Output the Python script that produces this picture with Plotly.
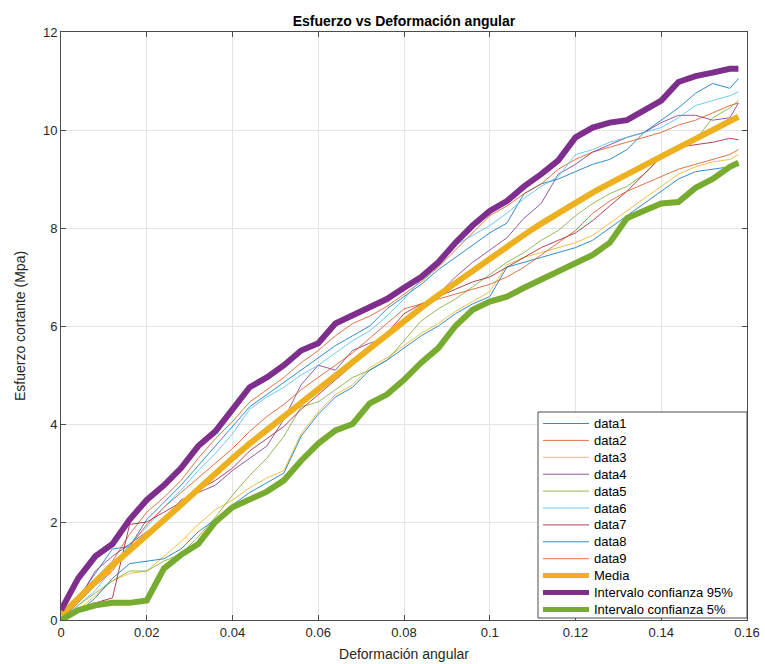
import plotly.graph_objects as go

# Deformación angular (common sampling grid for every curve)
deformacion = [0.000, 0.004, 0.008, 0.012, 0.016, 0.020, 0.024, 0.028, 0.032, 0.036,
               0.040, 0.044, 0.048, 0.052, 0.056, 0.060, 0.064, 0.068, 0.072, 0.076,
               0.080, 0.084, 0.088, 0.092, 0.096, 0.100, 0.104, 0.108, 0.112, 0.116,
               0.120, 0.124, 0.128, 0.132, 0.136, 0.140, 0.144, 0.148, 0.152, 0.156,
               0.158]

# Esfuerzo cortante (MPa) for each specimen
data1 = [0.00, 0.45, 0.95, 1.45, 1.50, 2.05, 2.40, 2.75, 3.15, 3.55,
         3.95, 4.35, 4.60, 4.85, 5.10, 5.35, 5.60, 5.80, 6.00, 6.35,
         6.60, 6.85, 7.15, 7.40, 7.65, 7.90, 8.10, 8.70, 8.90, 9.00,
         9.15, 9.30, 9.40, 9.60, 9.95, 10.20, 10.45, 10.75, 10.95, 10.85,
         11.05]
data2 = [0.00, 0.50, 0.85, 1.20, 1.75, 2.20, 2.50, 2.85, 3.30, 3.70,
         4.05, 4.45, 4.70, 4.95, 5.25, 5.50, 5.80, 6.05, 6.20, 6.40,
         6.65, 6.90, 7.20, 7.55, 7.90, 8.25, 8.45, 8.70, 8.90, 9.20,
         9.40, 9.55, 9.65, 9.75, 9.85, 9.95, 10.10, 10.20, 10.35, 10.50,
         10.55]
data3 = [0.00, 0.20, 0.50, 0.80, 0.95, 1.00, 1.30, 1.60, 1.95, 2.25,
         2.45, 2.70, 2.90, 3.05, 3.80, 4.25, 4.60, 4.80, 5.15, 5.35,
         5.60, 5.85, 6.05, 6.30, 6.50, 6.70, 7.25, 7.40, 7.50, 7.60,
         7.70, 7.85, 8.10, 8.35, 8.60, 8.85, 9.10, 9.25, 9.35, 9.40,
         9.50]
data4 = [0.00, 0.40, 1.00, 1.30, 1.55, 1.80, 2.05, 2.45, 2.60, 2.75,
         3.05, 3.30, 3.55, 4.10, 4.80, 5.20, 5.10, 5.50, 5.65, 5.75,
         6.10, 6.40, 6.65, 7.00, 7.30, 7.55, 7.80, 8.20, 8.50, 9.10,
         9.30, 9.55, 9.70, 9.85, 9.95, 10.15, 10.30, 10.30, 10.20, 10.25,
         10.55]
data5 = [0.00, 0.30, 0.55, 0.80, 1.00, 1.00, 1.20, 1.35, 1.70, 2.10,
         2.55, 2.95, 3.30, 3.75, 4.35, 4.45, 4.70, 4.95, 5.10, 5.30,
         5.70, 6.10, 6.35, 6.55, 6.80, 7.05, 7.30, 7.50, 7.75, 7.95,
         8.25, 8.50, 8.70, 8.85, 9.10, 9.45, 9.65, 9.80, 10.25, 10.45,
         10.60]
data6 = [0.00, 0.30, 0.60, 1.05, 1.55, 1.90, 2.30, 2.65, 3.05, 3.40,
         3.80, 4.30, 4.55, 4.75, 5.00, 5.20, 5.45, 5.70, 5.90, 6.20,
         6.55, 6.95, 7.25, 7.65, 7.85, 8.05, 8.30, 8.60, 8.85, 9.05,
         9.50, 9.60, 9.75, 9.85, 9.95, 10.05, 10.25, 10.50, 10.60, 10.70,
         10.78]
data7 = [0.00, 0.20, 0.35, 0.45, 1.95, 2.00, 2.20, 2.40, 2.65, 2.85,
         3.10, 3.45, 3.70, 3.95, 4.30, 4.60, 4.90, 5.20, 5.50, 5.85,
         6.25, 6.45, 6.60, 6.75, 6.90, 7.00, 7.20, 7.40, 7.60, 7.75,
         7.90, 8.15, 8.45, 8.75, 9.10, 9.45, 9.65, 9.70, 9.75, 9.83,
         9.80]
data8 = [0.00, 0.15, 0.45, 0.85, 1.15, 1.20, 1.25, 1.45, 1.80, 2.05,
         2.35, 2.60, 2.80, 3.00, 3.75, 4.20, 4.55, 4.75, 5.10, 5.30,
         5.55, 5.80, 6.00, 6.25, 6.45, 6.60, 7.20, 7.30, 7.40, 7.50,
         7.60, 7.75, 8.00, 8.25, 8.50, 8.75, 9.00, 9.15, 9.20, 9.25,
         9.33]
data9 = [0.00, 0.35, 0.70, 1.00, 1.50, 1.95, 2.30, 2.60, 2.90, 3.20,
         3.50, 3.85, 4.15, 4.40, 4.70, 4.95, 5.20, 5.45, 5.75, 6.05,
         6.35, 6.45, 6.55, 6.65, 6.75, 6.85, 7.00, 7.20, 7.45, 7.70,
         7.95, 8.30, 8.55, 8.75, 8.90, 9.05, 9.20, 9.30, 9.40, 9.50,
         9.60]

media = [0.10, 0.45, 0.80, 1.12, 1.42, 1.72, 2.03, 2.35, 2.67, 3.00,
         3.30, 3.60, 3.88, 4.15, 4.43, 4.70, 4.98, 5.26, 5.54, 5.82,
         6.10, 6.37, 6.63, 6.88, 7.13, 7.38, 7.62, 7.86, 8.09, 8.31,
         8.52, 8.72, 8.91, 9.10, 9.28, 9.46, 9.64, 9.82, 9.99, 10.17,
         10.27]
ic95 = [0.20, 0.85, 1.30, 1.55, 2.05, 2.45, 2.75, 3.10, 3.55, 3.85,
        4.30, 4.75, 4.95, 5.20, 5.50, 5.65, 6.05, 6.22, 6.37, 6.55,
        6.78, 7.00, 7.30, 7.70, 8.05, 8.35, 8.55, 8.85, 9.10, 9.38,
        9.85, 10.05, 10.15, 10.20, 10.40, 10.60, 10.98, 11.10, 11.17, 11.25,
        11.25]
ic5 = [0.00, 0.20, 0.30, 0.35, 0.35, 0.40, 1.05, 1.33, 1.55, 2.00,
       2.30, 2.45, 2.62, 2.85, 3.25, 3.60, 3.87, 4.00, 4.42, 4.60,
       4.90, 5.25, 5.55, 6.00, 6.33, 6.50, 6.60, 6.78, 6.95, 7.12,
       7.30, 7.45, 7.70, 8.20, 8.35, 8.50, 8.53, 8.82, 9.00, 9.25,
       9.33]

x_ticks = [0, 0.02, 0.04, 0.06, 0.08, 0.1, 0.12, 0.14, 0.16]
x_tick_text = ["0", "0.02", "0.04", "0.06", "0.08", "0.1", "0.12", "0.14", "0.16"]
y_ticks = [0, 2, 4, 6, 8, 10, 12]

thin_series = [
    ("data1", data1, "#0072BD"),
    ("data2", data2, "#D95319"),
    ("data3", data3, "#EDB120"),
    ("data4", data4, "#7E2F8E"),
    ("data5", data5, "#77AC30"),
    ("data6", data6, "#4DBEEE"),
    ("data7", data7, "#A2142F"),
    ("data8", data8, "#0072BD"),
    ("data9", data9, "#D95319"),
]
thick_series = [
    ("Media", media, "#EDB120"),
    ("Intervalo confianza 95%", ic95, "#7E2F8E"),
    ("Intervalo confianza 5%", ic5, "#77AC30"),
]

FONT = "Arial, Liberation Sans, Helvetica, sans-serif"
W, H = 765, 664
M_L, M_R, M_T, M_B = 61, 18, 32, 44
PLOT_W = W - M_L - M_R
PLOT_H = H - M_T - M_B

THIN_OPACITY = 0.8

fig = go.Figure()
for name, ys, color in thin_series:
    fig.add_trace(go.Scatter(x=deformacion, y=ys, mode="lines", name=name,
                             opacity=THIN_OPACITY, line=dict(color=color, width=1)))
for name, ys, color in thick_series:
    fig.add_trace(go.Scatter(x=deformacion, y=ys, mode="lines", name=name,
                             line=dict(color=color, width=6)))


# Compact boxed legend in the lower-right corner of the axes (paper coords)
def px_x(px):
    return (px - M_L) / PLOT_W


def px_y(py):
    return (H - M_B - py) / PLOT_H


shapes = [dict(type="rect", xref="paper", yref="paper", layer="above",
               x0=px_x(538), x1=px_x(747), y0=px_y(618), y1=px_y(412),
               fillcolor="white", line=dict(color="#4d4d4d", width=1))]
annotations = []
row0, row_step = 423.5, 16.9
entries = [(n, c, 1, THIN_OPACITY) for n, _, c in thin_series] + \
          [(n, c, 5, 1.0) for n, _, c in thick_series]
for i, (name, color, lw, op) in enumerate(entries):
    yc = row0 + i * row_step
    shapes.append(dict(type="line", xref="paper", yref="paper", layer="above",
                       x0=px_x(543), x1=px_x(589), y0=px_y(yc), y1=px_y(yc),
                       opacity=op, line=dict(color=color, width=lw)))
    annotations.append(dict(xref="paper", yref="paper", x=px_x(592), y=px_y(yc),
                            xanchor="left", yanchor="middle", showarrow=False,
                            text=name, font=dict(family=FONT, size=13, color="#000000")))

axis_common = dict(
    showgrid=True, gridcolor="#e4e4e4", gridwidth=1,
    showline=True, linecolor="#4d4d4d", linewidth=1, mirror="ticks",
    ticks="inside", ticklen=5, tickcolor="#4d4d4d",
    zeroline=False, automargin=False,
    tickfont=dict(family=FONT, size=13, color="#262626"),
)

fig.update_layout(
    width=W, height=H,
    margin=dict(l=M_L, r=M_R, t=M_T, b=M_B),
    paper_bgcolor="white", plot_bgcolor="white",
    showlegend=False,
    title=dict(text="<b>Esfuerzo vs Deformación angular</b>",
               x=0.528, xanchor="center", y=0.968, yanchor="middle",
               font=dict(family=FONT, size=14, color="#000000")),
    xaxis=dict(range=[0, 0.16], tickvals=x_ticks, ticktext=x_tick_text,
               title=dict(text="Deformación angular", standoff=10,
                          font=dict(family=FONT, size=14, color="#262626")),
               **axis_common),
    yaxis=dict(range=[0, 12], tickvals=y_ticks,
               title=dict(text="Esfuerzo cortante (Mpa)", standoff=14,
                          font=dict(family=FONT, size=14, color="#262626")),
               **axis_common),
    shapes=shapes,
    annotations=annotations,
)

fig.write_html("out.html")
